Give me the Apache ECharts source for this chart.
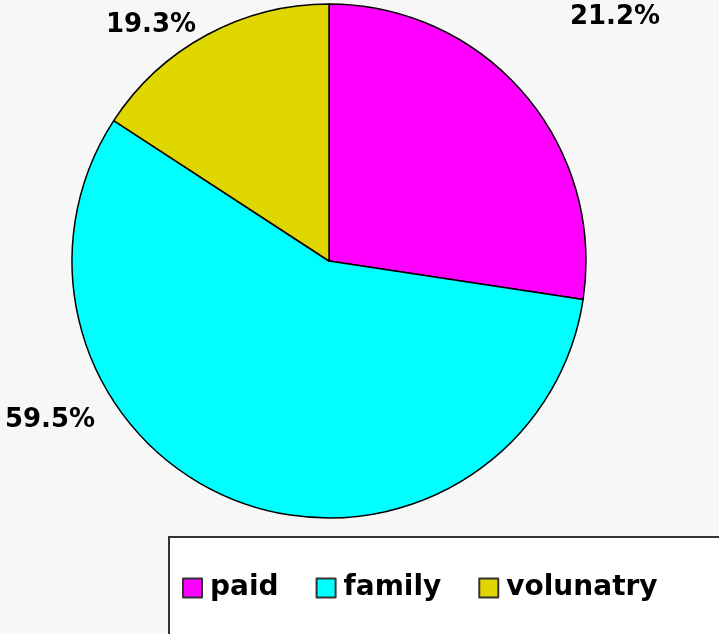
<!DOCTYPE html>
<html>
<head>
<meta charset="utf-8">
<script src="https://cdn.jsdelivr.net/npm/echarts@6/dist/echarts.min.js"></script>
<style>
  html, body { margin: 0; padding: 0; background: #f7f7f7; }
  #chart { width: 719px; height: 634px; }
</style>
</head>
<body>
<div id="chart"></div>
<script>
const categories = ['paid', 'family', 'volunatry']
const values = [27.4, 56.8, 15.8]
const printedLabels = ['21.2%', '59.5%', '19.3%']
const colors = ['#ff00ff', '#00ffff', '#e0d600']

// where each label sits (centre of text)
const labelSpots = [[615, 17], [50, 420], [151, 25]]

const chart = echarts.init(document.getElementById('chart'))

chart.setOption({
  backgroundColor: '#f7f7f7',
  textStyle: { fontFamily: 'DejaVu Sans' },
  // legend frame runs off the right and bottom edge, so it is drawn separately
  graphic: [
    {
      type: 'rect',
      z: 0,
      silent: true,
      shape: { x: 169, y: 537, width: 600, height: 150 },
      style: { fill: '#ffffff', stroke: '#333333', lineWidth: 2 }
    }
  ],
  legend: {
    data: categories,
    left: 182,
    top: 574,
    z: 10,
    orient: 'horizontal',
    icon: 'rect',
    itemWidth: 19,
    itemHeight: 19,
    itemGap: 37,
    padding: 0,
    itemStyle: { borderColor: '#333333', borderWidth: 2 },
    textStyle: {
      fontSize: 28,
      fontWeight: 'bold',
      color: '#000',
      lineHeight: 28,
      padding: [0, 0, 0, 3]
    }
  },
  series: [
    {
      name: 'share',
      type: 'pie',
      center: [329, 261],
      radius: 257,
      startAngle: 90,
      clockwise: true,
      animation: false,
      itemStyle: { borderColor: '#000', borderWidth: 1.5 },
      label: {
        show: true,
        formatter: p => printedLabels[p.dataIndex],
        fontSize: 26,
        fontWeight: 'bold',
        color: '#000',
        align: 'center',
        verticalAlign: 'middle'
      },
      labelLine: { show: false },
      labelLayout: p => ({
        x: labelSpots[p.dataIndex][0],
        y: labelSpots[p.dataIndex][1],
        align: 'center',
        verticalAlign: 'middle'
      }),
      emphasis: { disabled: true },
      data: categories.map((c, i) => ({
        name: c,
        value: values[i],
        itemStyle: { color: colors[i] }
      }))
    }
  ]
})
</script>
</body>
</html>
